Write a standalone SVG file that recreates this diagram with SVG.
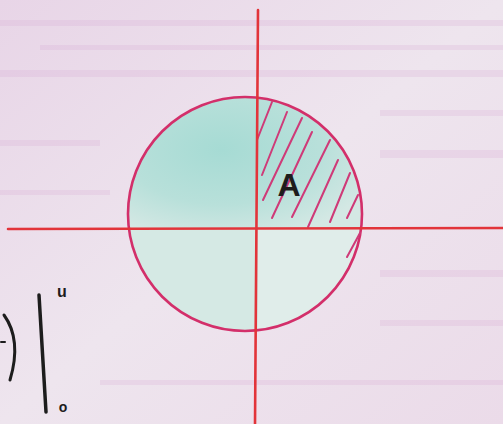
<svg xmlns="http://www.w3.org/2000/svg" width="503" height="424" viewBox="0 0 503 424">
<defs>
<linearGradient id="bg" x1="0" y1="0" x2="1" y2="1">
<stop offset="0" stop-color="#e8d5e7"/>
<stop offset="0.5" stop-color="#eee5ee"/>
<stop offset="1" stop-color="#ebdbe9"/>
</linearGradient>
<radialGradient id="cy" cx="0.4" cy="0.4" r="0.7">
<stop offset="0" stop-color="#a6dbd4"/>
<stop offset="0.6" stop-color="#b8e0da"/>
<stop offset="1" stop-color="#d4e8e4"/>
</radialGradient>
<clipPath id="cc"><ellipse cx="245" cy="214" rx="117" ry="117"/></clipPath>
<style>
.ax{stroke:#e2343a;stroke-width:2.6;fill:none;stroke-linecap:round}
.hat{stroke:#cf3a78;stroke-width:2;fill:none;stroke-linecap:round}
.ink{stroke:#1d1d1d;fill:none;stroke-linecap:round;stroke-linejoin:round}
</style>
</defs>
<rect width="503" height="424" fill="url(#bg)"/>
<g opacity="0.22" fill="#d7a6d3">
<rect x="0" y="20" width="503" height="6"/>
<rect x="40" y="45" width="463" height="5"/>
<rect x="0" y="70" width="503" height="7"/>
<rect x="380" y="110" width="123" height="6"/>
<rect x="380" y="150" width="123" height="8"/>
<rect x="0" y="140" width="100" height="6"/>
<rect x="0" y="190" width="110" height="5"/>
<rect x="380" y="270" width="123" height="7"/>
<rect x="380" y="320" width="123" height="6"/>
<rect x="100" y="380" width="403" height="5"/>
</g>
<g id="disk">
<g clip-path="url(#cc)">
<rect x="128" y="97" width="234" height="234" fill="#e0edea"/>
<rect x="128" y="97" width="234" height="131" fill="url(#cy)"/>
<rect x="128" y="228" width="130" height="103" fill="#d2e7e2" opacity="0.8"/>
</g>
<ellipse cx="245" cy="214" rx="117" ry="117" fill="none" stroke="#d32f6a" stroke-width="2.6"/>
</g>
<g id="hatching">
<line class="hat" x1="257" y1="140" x2="272" y2="102"/>
<line class="hat" x1="262" y1="175" x2="287" y2="112"/>
<line class="hat" x1="263" y1="200" x2="302" y2="118"/>
<line class="hat" x1="272" y1="218" x2="312" y2="132"/>
<line class="hat" x1="292" y1="217" x2="330" y2="140"/>
<line class="hat" x1="308" y1="227" x2="338" y2="160"/>
<line class="hat" x1="330" y1="222" x2="350" y2="173"/>
<line class="hat" x1="347" y1="218" x2="358" y2="195"/>
<line class="hat" x1="347" y1="257" x2="360" y2="233"/>
</g>
<g id="axes">
<line class="ax" x1="258" y1="10" x2="255" y2="424"/>
<line class="ax" x1="8" y1="229" x2="503" y2="228"/>
</g>
<g id="label-A">
<text x="289" y="196" font-family="Liberation Sans, sans-serif" font-size="32" font-weight="bold" fill="#1d1d1d" text-anchor="middle">A</text>
</g>
<g id="eval">
<path class="ink" stroke-width="3" d="M4 315 Q22 340 10 380"/>
<line class="ink" stroke-width="2" x1="1" y1="342" x2="5" y2="342"/>
<line class="ink" stroke-width="3.5" x1="39" y1="295" x2="46" y2="412"/>
<text x="62" y="297" font-family="Liberation Sans, sans-serif" font-size="16" font-weight="bold" fill="#1d1d1d" text-anchor="middle">u</text>
<text x="63" y="412" font-family="Liberation Sans, sans-serif" font-size="14" font-weight="bold" fill="#1d1d1d" text-anchor="middle">o</text>
</g>
</svg>
